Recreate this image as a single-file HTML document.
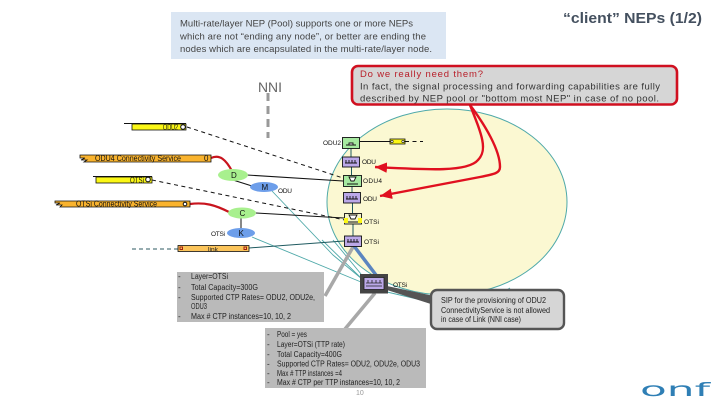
<!DOCTYPE html>
<html><head><meta charset="utf-8"><style>
html,body{margin:0;padding:0;background:#fff}
svg{display:block}
text{font-family:"Liberation Sans",sans-serif;fill:#222}
.n{font-size:8px;fill:#111}
.l{font-size:6.5px;fill:#111}
.g{font-size:8px;fill:#222}
.s{font-size:8px;fill:#222}
.t{font-size:9.5px;fill:#444}
.r{font-size:9.5px;fill:#333}
</style></head><body>
<svg width="720" height="405" viewBox="0 0 720 405" xmlns="http://www.w3.org/2000/svg">
<defs><marker id="a" markerWidth="5" markerHeight="4.4" refX="5" refY="2.2" orient="auto"><path d="M0,0L5,2.2L0,4.4z" fill="#e01020"/></marker></defs>
<rect width="720" height="405" fill="#fff"/>

<!-- top note -->
<rect x="171" y="12" width="275" height="47" fill="#dbe6f3"/>
<text class="t" x="180" y="26.5" textLength="233" lengthAdjust="spacing">Multi-rate/layer NEP (Pool) supports one or more NEPs</text>
<text class="t" x="180" y="39.5" textLength="246" lengthAdjust="spacing">which are not “ending any node”, or better are ending the</text>
<text class="t" x="180" y="52" textLength="252" lengthAdjust="spacing">nodes which are encapsulated in the multi-rate/layer node.</text>

<text x="563" y="23" font-size="15" font-weight="bold" textLength="139" lengthAdjust="spacingAndGlyphs" style="fill:#44505f">“client” NEPs (1/2)</text>
<text x="258" y="92" font-size="14" textLength="24" lengthAdjust="spacingAndGlyphs" style="fill:#666">NNI</text>
<line x1="268" y1="93" x2="268" y2="138" stroke="#999" stroke-width="3" stroke-dasharray="8 5"/>

<!-- big ellipse -->
<ellipse cx="447" cy="202" rx="120" ry="93" fill="#fbf8d2" stroke="#4fa9a9" stroke-width="1"/>

<!-- teal lines -->
<g stroke="#4fa9a9" stroke-width="0.9" fill="none">
<path d="M272,191L333,255L362,279"/>
<path d="M252,237L361,282"/>
<path d="M322,240L361,278"/>
<path d="M333,240L361,274"/>
<path d="M387,292L430,302"/>
<path d="M510,288L490,300"/>
</g>

<!-- thick connectors -->
<line x1="325" y1="296" x2="353" y2="247" stroke="#a8a8a8" stroke-width="3.5"/>
<line x1="376" y1="275" x2="354" y2="246" stroke="#5b85c0" stroke-width="3.5"/>
<line x1="375" y1="293" x2="345" y2="329" stroke="#a8a8a8" stroke-width="3.5"/>
<path d="M387,286L434,296L434,305L387,290z" fill="#555"/>

<!-- dashed -->
<g stroke="#111" stroke-width="1" fill="none" stroke-dasharray="4 3.5">
<path d="M187,127L343,178"/>
<path d="M152,180L345,220"/>
<path d="M405,141.5L423,141.5"/>
</g>
<line x1="132" y1="249" x2="178" y2="249" stroke="#2d5a60" stroke-dasharray="4 3"/>

<!-- solid -->
<g stroke="#111" stroke-width="1" fill="none">
<path d="M360,141.5L390,141.5"/>
<path d="M247,175L343,181"/>
<path d="M233,180L252,186"/>
<path d="M256,213L344,218"/>
<path d="M241,218L241,229"/>
</g>
<path d="M249,248L344,241" stroke="#1f5a60" stroke-width="1" fill="none"/>
<path d="M351,148V157M351.5,167V175M352,186V192M352.5,203V213M353,224V236" stroke="#1f5a60" stroke-width="1" fill="none"/>

<!-- red service links -->
<path d="M211,158C220,154 226,160 232,171" stroke="#c8141e" stroke-width="2.2" fill="none"/>
<path d="M190,204C205,202 215,205 229,212" stroke="#c8141e" stroke-width="2.2" fill="none"/>

<!-- left bars -->
<line x1="124" y1="123.5" x2="186" y2="123.5" stroke="#111"/>
<rect x="132" y="124" width="54" height="6" fill="#fbf715" stroke="#111" stroke-width=".8"/>
<text class="n" x="163" y="130" textLength="15" lengthAdjust="spacingAndGlyphs" font-size="7">ODU2</text>
<circle cx="183" cy="127" r="2.3" fill="#fff" stroke="#111"/>

<path d="M80,155H211V162H84L87,160H81L85,158H80z" fill="#f9b32e" stroke="#111" stroke-width=".8"/>
<text class="n" x="95" y="161" textLength="86" lengthAdjust="spacingAndGlyphs">ODU4 Connectivity Service</text>
<text class="n" x="204" y="161">0</text>

<line x1="93" y1="176.5" x2="152" y2="176.5" stroke="#111"/>
<rect x="96" y="177" width="56" height="6" fill="#fbf715" stroke="#111" stroke-width=".8"/>
<text class="n" x="130" y="183" textLength="14" lengthAdjust="spacingAndGlyphs" font-size="7">OTSi</text>
<circle cx="148" cy="179.5" r="2.3" fill="#fff" stroke="#111"/>

<path d="M55,201H190V207H60L62,205H56L60,203H55z" fill="#f9b32e" stroke="#111" stroke-width=".8"/>
<text class="n" x="76" y="206.5" textLength="81" lengthAdjust="spacingAndGlyphs">OTSi Connectivity Service</text>
<circle cx="185" cy="204" r="1.8" fill="#fff" stroke="#111"/>

<rect x="178" y="245.5" width="71" height="6" fill="#fbc45a" stroke="#111" stroke-width=".8"/>
<rect x="180" y="247" width="2.5" height="2.5" fill="none" stroke="#a02010"/>
<rect x="244" y="247" width="2.5" height="2.5" fill="none" stroke="#a02010"/>
<text x="208" y="251.5" font-size="6" textLength="10" lengthAdjust="spacingAndGlyphs">link</text>

<!-- ellipses -->
<ellipse cx="233" cy="175" rx="15" ry="6" fill="#a8f08e"/>
<text class="n" x="231" y="178">D</text>
<ellipse cx="264" cy="187" rx="14" ry="5" fill="#6d9eea"/>
<text class="n" x="261.5" y="190">M</text>
<ellipse cx="242" cy="213" rx="14" ry="5.5" fill="#a8f08e"/>
<text class="n" x="239.5" y="216">C</text>
<ellipse cx="241" cy="233" rx="14" ry="5" fill="#6d9eea"/>
<text class="n" x="238.5" y="236">K</text>

<!-- small yellow -->
<rect x="390" y="139" width="15" height="5" fill="#fbf715" stroke="#111" stroke-width=".8"/>
<circle cx="392" cy="141.5" r="1.2" fill="#fff" stroke="#111" stroke-width=".6"/>
<circle cx="403" cy="141.5" r="1.2" fill="#fff" stroke="#111" stroke-width=".6"/>

<!-- nodes -->
<g stroke="#111" stroke-width=".9">
<rect x="342.5" y="137.5" width="17" height="11" fill="#a6e9a0"/>
<path d="M346,145h10M349,145v-2h4v2" fill="#fff"/>
<rect x="342.5" y="157" width="17" height="10" fill="#bba8e8"/>
<path d="M345,163h12M346,163v-3M349,163v-3M352,163v-3M355,163v-3" fill="none"/>
<rect x="343.5" y="175.5" width="18" height="11" fill="#a6e9a0"/>
<path d="M349,177h7l-2,4h-3zM347,184h11" fill="#fff"/>
<rect x="343.5" y="192.5" width="17" height="10.5" fill="#bba8e8"/>
<path d="M346,199h12M347,199v-3M350,199v-3M353,199v-3M356,199v-3" fill="none"/>
<rect x="344.5" y="213.5" width="17" height="10.5" fill="#f4f4c8"/>
<rect x="344" y="218" width="4" height="5" fill="#fbf715" stroke="none"/>
<rect x="358" y="218" width="4" height="5" fill="#fbf715" stroke="none"/>
<path d="M349,215h8l-2,4h-4zM348,222h10" fill="#fff"/>
<rect x="344.5" y="236" width="17" height="10.5" fill="#bba8e8"/>
<path d="M347,242h12M348,242v-3M351,242v-3M354,242v-3M357,242v-3" fill="none"/>
</g>
<rect x="360" y="274" width="28" height="19.5" fill="#444"/>
<rect x="364" y="277.5" width="20" height="12" fill="#bba8e8" stroke="#222" stroke-width=".8"/>
<path d="M366,283h16M366,286h16M368,283v-3M372,283v-3M376,283v-3M380,283v-3" stroke="#222" stroke-width=".8" fill="none"/>

<!-- node labels -->
<text class="l" x="323" y="145" textLength="18" lengthAdjust="spacing">ODU2</text>
<text class="l" x="362" y="164" textLength="14" lengthAdjust="spacing">ODU</text>
<text class="l" x="363" y="183" textLength="19" lengthAdjust="spacing">ODU4</text>
<text class="l" x="363" y="201" textLength="14" lengthAdjust="spacing">ODU</text>
<text class="l" x="278" y="193" textLength="14" lengthAdjust="spacing">ODU</text>
<text class="l" x="364" y="224" textLength="15" lengthAdjust="spacing">OTSi</text>
<text class="l" x="364" y="244" textLength="15" lengthAdjust="spacing">OTSi</text>
<text class="l" x="211" y="236" textLength="14" lengthAdjust="spacing">OTSi</text>
<text class="l" x="393" y="287" textLength="14" lengthAdjust="spacing">OTSi</text>

<!-- red callout -->
<path d="M470,105C482,135 488,150 478,160C468,172 430,170 375,167" stroke="#e01020" stroke-width="2.4" fill="none" marker-end="url(#a)"/>
<path d="M470,105C485,125 500,150 500,167C500,173 495,174 480,177L380,196" stroke="#e01020" stroke-width="2.4" fill="none" marker-end="url(#a)"/>
<rect x="352" y="66" width="325" height="38.5" rx="6" fill="#d6d6d6" stroke="#d01020" stroke-width="2.6"/>
<text class="r" x="360" y="77" textLength="123" lengthAdjust="spacing" style="fill:#b8202a">Do we really need them?</text>
<text class="r" x="360" y="89.5" textLength="300" lengthAdjust="spacing">In fact, the signal processing and forwarding capabilities are fully</text>
<text class="r" x="360" y="101.5" textLength="299" lengthAdjust="spacing">described by NEP pool or "bottom most NEP" in case of no pool.</text>

<!-- gray box 1 -->
<rect x="177" y="272" width="147" height="50" fill="#bababa"/>
<text class="g" x="178" y="279">-</text><text class="g" x="178" y="290">-</text><text class="g" x="178" y="300">-</text><text class="g" x="178" y="319">-</text>
<text class="g" x="191" y="279" textLength="37" lengthAdjust="spacingAndGlyphs">Layer=OTSi</text>
<text class="g" x="191" y="290" textLength="67" lengthAdjust="spacingAndGlyphs">Total Capacity=300G</text>
<text class="g" x="191" y="300" textLength="124" lengthAdjust="spacingAndGlyphs">Supported CTP Rates= ODU2, ODU2e,</text>
<text class="g" x="191" y="309" textLength="16" lengthAdjust="spacingAndGlyphs">ODU3</text>
<text class="g" x="191" y="319" textLength="100" lengthAdjust="spacingAndGlyphs">Max # CTP instances=10, 10, 2</text>

<!-- gray box 2 -->
<rect x="265" y="328" width="161" height="60" fill="#bababa"/>
<text class="g" x="267" y="337">-</text><text class="g" x="267" y="347">-</text><text class="g" x="267" y="357">-</text><text class="g" x="267" y="366.5">-</text><text class="g" x="267" y="376">-</text><text class="g" x="267" y="385">-</text>
<text class="g" x="277" y="337" textLength="30" lengthAdjust="spacingAndGlyphs">Pool = yes</text>
<text class="g" x="277" y="347" textLength="68" lengthAdjust="spacingAndGlyphs">Layer=OTSi (TTP rate)</text>
<text class="g" x="277" y="357" textLength="65" lengthAdjust="spacingAndGlyphs">Total Capacity=400G</text>
<text class="g" x="277" y="366.5" textLength="143" lengthAdjust="spacingAndGlyphs">Supported CTP Rates= ODU2, ODU2e, ODU3</text>
<text class="g" x="277" y="376" textLength="65" lengthAdjust="spacingAndGlyphs">Max # TTP instances =4</text>
<text class="g" x="277" y="385" textLength="123" lengthAdjust="spacingAndGlyphs">Max # CTP per TTP instances=10, 10, 2</text>
<text x="356" y="395" font-size="7" style="fill:#999">10</text>

<!-- SIP callout -->
<rect x="431" y="290" width="133" height="39" rx="6" fill="#d6d6d6" stroke="#555" stroke-width="2.4"/>
<text class="s" x="441" y="303" textLength="105" lengthAdjust="spacingAndGlyphs">SIP for the provisioning of ODU2</text>
<text class="s" x="441" y="313" textLength="109" lengthAdjust="spacingAndGlyphs">ConnectivityService is not allowed</text>
<text class="s" x="441" y="322" textLength="80" lengthAdjust="spacingAndGlyphs">in case of Link (NNI case)</text>

<!-- logo -->
<text x="640" y="396" font-size="19" textLength="70" lengthAdjust="spacingAndGlyphs" style="font-family:'DejaVu Sans',sans-serif;fill:#2f7fb5">onf</text>
</svg>
</body></html>
